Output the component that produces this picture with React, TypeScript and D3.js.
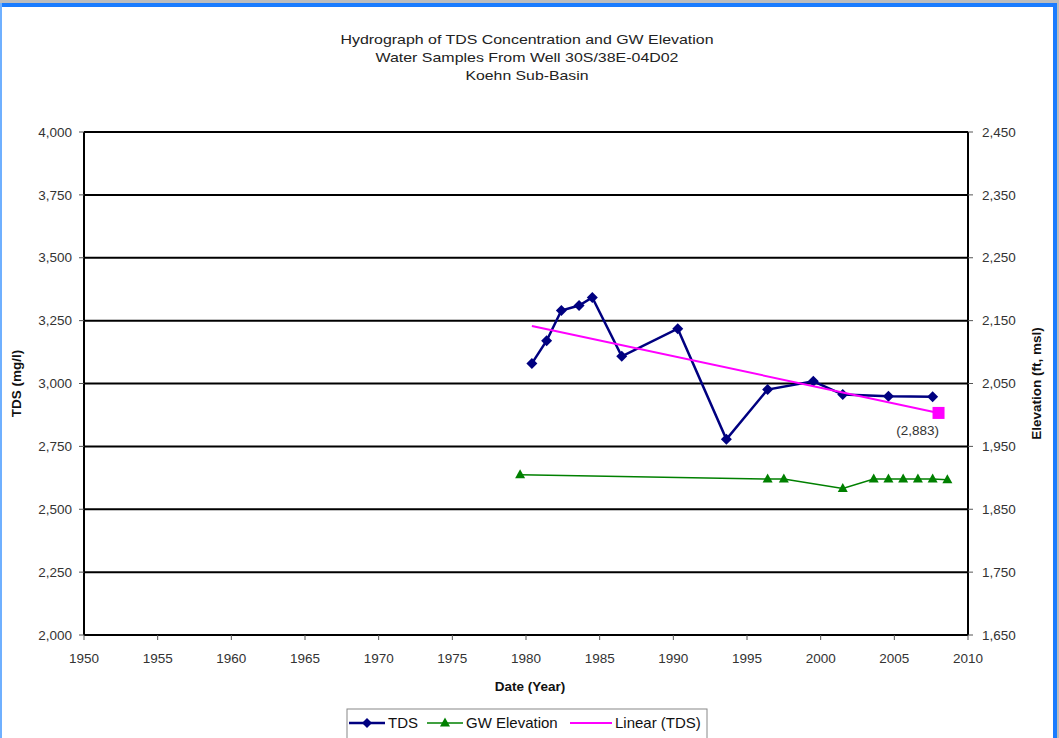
import React from "react";
import * as d3 from "d3";

// TDS samples (decimal year, mg/l)
const tdsYears = [1980.4, 1981.4, 1982.4, 1983.6, 1984.5, 1986.5, 1990.3, 1993.6, 1996.4, 1999.5, 2001.5, 2004.6, 2007.6];
const tdsValues = [3080, 3170, 3290, 3310, 3342, 3108, 3218, 2778, 2976, 3009, 2956, 2949, 2947];

// groundwater elevation (decimal year, ft msl)
const gwYears = [1979.6, 1996.4, 1997.5, 2001.5, 2003.6, 2004.6, 2005.6, 2006.6, 2007.6, 2008.6];
const gwValues = [1905, 1898, 1898, 1883, 1898, 1898, 1898, 1898, 1898, 1897];

// linear trend of TDS, as drawn
const trendYears = [1980.4, 2008.0];
const trendValues = [3229, 2883];

const yearTicks = [1950, 1955, 1960, 1965, 1970, 1975, 1980, 1985, 1990, 1995, 2000, 2005, 2010];
const tdsTicks = [2000, 2250, 2500, 2750, 3000, 3250, 3500, 3750, 4000];
const elevTicks = [1650, 1750, 1850, 1950, 2050, 2150, 2250, 2350, 2450];

const titleLines = [
  "Hydrograph of TDS Concentration and GW Elevation",
  "Water Samples From Well 30S/38E-04D02",
  "Koehn Sub-Basin",
];
const titleWidths = [373, 303, 123];

const W = 1059;
const H = 738;
const left = 84, right = 968, top = 132, bottom = 635;
const font = "'Liberation Sans', Arial, sans-serif";
const navy = "#000080";
const green = "#008000";
const pink = "#ff00ff";
const fmt = d3.format(",");

const App = () => {
  const x = d3.scaleLinear().domain([1950, 2010]).range([left, right]);
  const yL = d3.scaleLinear().domain([2000, 4000]).range([bottom, top]);
  const yR = d3.scaleLinear().domain([1650, 2450]).range([bottom, top]);

  const tds = tdsYears.map((t, i) => ({ t, v: tdsValues[i] }));
  const gw = gwYears.map((t, i) => ({ t, v: gwValues[i] }));
  const trend = trendYears.map((t, i) => ({ t, v: trendValues[i] }));

  const tdsLine = d3.line<{ t: number; v: number }>().x(d => x(d.t)).y(d => yL(d.v));
  const gwLine = d3.line<{ t: number; v: number }>().x(d => x(d.t)).y(d => yR(d.v));

  const diamond = (cx: number, cy: number, r = 5.5) =>
    `M${cx},${cy - r}L${cx + r},${cy}L${cx},${cy + r}L${cx - r},${cy}Z`;
  const tri = (cx: number, cy: number) =>
    `M${cx},${cy - 5.5}L${cx + 5},${cy + 3.5}L${cx - 5},${cy + 3.5}Z`;

  const last = trend[trend.length - 1];
  const ly = 723;

  return (
    <svg width={W} height={H} style={{ position: "absolute", left: 0, top: 0, background: "#fff" }}>
      {/* window frame */}
      <rect x={0} y={0} width={W} height={3} fill="#bdbdbd" />
      <rect x={0} y={3} width={1057} height={4} fill="#1a7cff" />
      <rect x={1053} y={3} width={4} height={H} fill="#1a7cff" />
      <rect x={1057} y={0} width={2} height={H} fill="#bdbdbd" />
      <rect x={0} y={3} width={2} height={H} fill="#6fb0ff" />

      {/* title */}
      {titleLines.map((s, i) => (
        <text key={s} x={527 - titleWidths[i] / 2} y={44 + i * 18} textLength={titleWidths[i]}
          lengthAdjust="spacingAndGlyphs" fontFamily={font} fontSize={13} fill="#222">
          {s}
        </text>
      ))}

      {/* gridlines */}
      {tdsTicks.map(t => (
        <line key={t} x1={left} x2={right} y1={yL(t)} y2={yL(t)} stroke="#000" strokeWidth={2} />
      ))}
      <line x1={left} x2={left} y1={top} y2={bottom} stroke="#000" strokeWidth={2} />
      <line x1={right} x2={right} y1={top} y2={bottom} stroke="#000" strokeWidth={2} />

      {/* left axis */}
      {tdsTicks.map(t => (
        <g key={t}>
          <line x1={left - 5} x2={left} y1={yL(t)} y2={yL(t)} stroke="#555" />
          <text x={72} y={yL(t)} dy="0.35em" textAnchor="end" fontFamily={font} fontSize={13.5} fill="#333">
            {fmt(t)}
          </text>
        </g>
      ))}
      <text transform={`translate(21,${(top + bottom) / 2}) rotate(-90)`} textAnchor="middle" fontFamily={font}
        fontSize={13.5} fontWeight="bold" fill="#111">TDS (mg/l)</text>

      {/* right axis */}
      {elevTicks.map(t => (
        <g key={t}>
          <line x1={right} x2={right + 5} y1={yR(t)} y2={yR(t)} stroke="#555" />
          <text x={982} y={yR(t)} dy="0.35em" fontFamily={font} fontSize={13.5} fill="#333">
            {fmt(t)}
          </text>
        </g>
      ))}
      <text transform={`translate(1041,${(top + bottom) / 2}) rotate(-90)`} textAnchor="middle" fontFamily={font}
        fontSize={13.5} fontWeight="bold" fill="#111">Elevation (ft, msl)</text>

      {/* bottom axis */}
      {yearTicks.map(t => (
        <g key={t}>
          <line x1={x(t)} x2={x(t)} y1={bottom} y2={bottom + 5} stroke="#555" />
          <text x={x(t)} y={658} dy="0.35em" textAnchor="middle" fontFamily={font} fontSize={13.5} fill="#333">
            {t}
          </text>
        </g>
      ))}
      <text x={530} y={691} textAnchor="middle" fontFamily={font} fontSize={13.5} fontWeight="bold" fill="#111">
        Date (Year)
      </text>

      {/* GW elevation */}
      <path d={gwLine(gw) ?? ""} fill="none" stroke={green} strokeWidth={1.5} />
      {gw.map((d, i) => (
        <path key={i} d={tri(x(d.t), yR(d.v))} fill={green} />
      ))}

      {/* TDS */}
      <path d={tdsLine(tds) ?? ""} fill="none" stroke={navy} strokeWidth={2.5} />
      {tds.map((d, i) => (
        <path key={i} d={diamond(x(d.t), yL(d.v))} fill={navy} />
      ))}

      {/* trend */}
      <path d={tdsLine(trend) ?? ""} fill="none" stroke={pink} strokeWidth={2} />
      <rect x={x(last.t) - 6} y={yL(last.v) - 6} width={12} height={12} fill={pink} />
      <text x={x(last.t) - 21} y={yL(last.v) + 22} textAnchor="middle" fontFamily={font} fontSize={13.5} fill="#333">
        ({fmt(last.v)})
      </text>

      {/* legend */}
      <rect x={347} y={709} width={360} height={40} fill="#fff" stroke="#888" />
      <line x1={349} x2={385} y1={ly} y2={ly} stroke={navy} strokeWidth={2.5} />
      <path d={diamond(367, ly, 5)} fill={navy} />
      <text x={388} y={ly} dy="0.35em" fontFamily={font} fontSize={15} fill="#111">TDS</text>
      <line x1={427} x2={463} y1={ly} y2={ly} stroke={green} strokeWidth={1.5} />
      <path d={tri(445, ly)} fill={green} />
      <text x={466} y={ly} dy="0.35em" fontFamily={font} fontSize={15} fill="#111">GW Elevation</text>
      <line x1={570} x2={612} y1={ly} y2={ly} stroke={pink} strokeWidth={2} />
      <text x={615} y={ly} dy="0.35em" fontFamily={font} fontSize={15} fill="#111">Linear (TDS)</text>
    </svg>
  );
};

export default App;
